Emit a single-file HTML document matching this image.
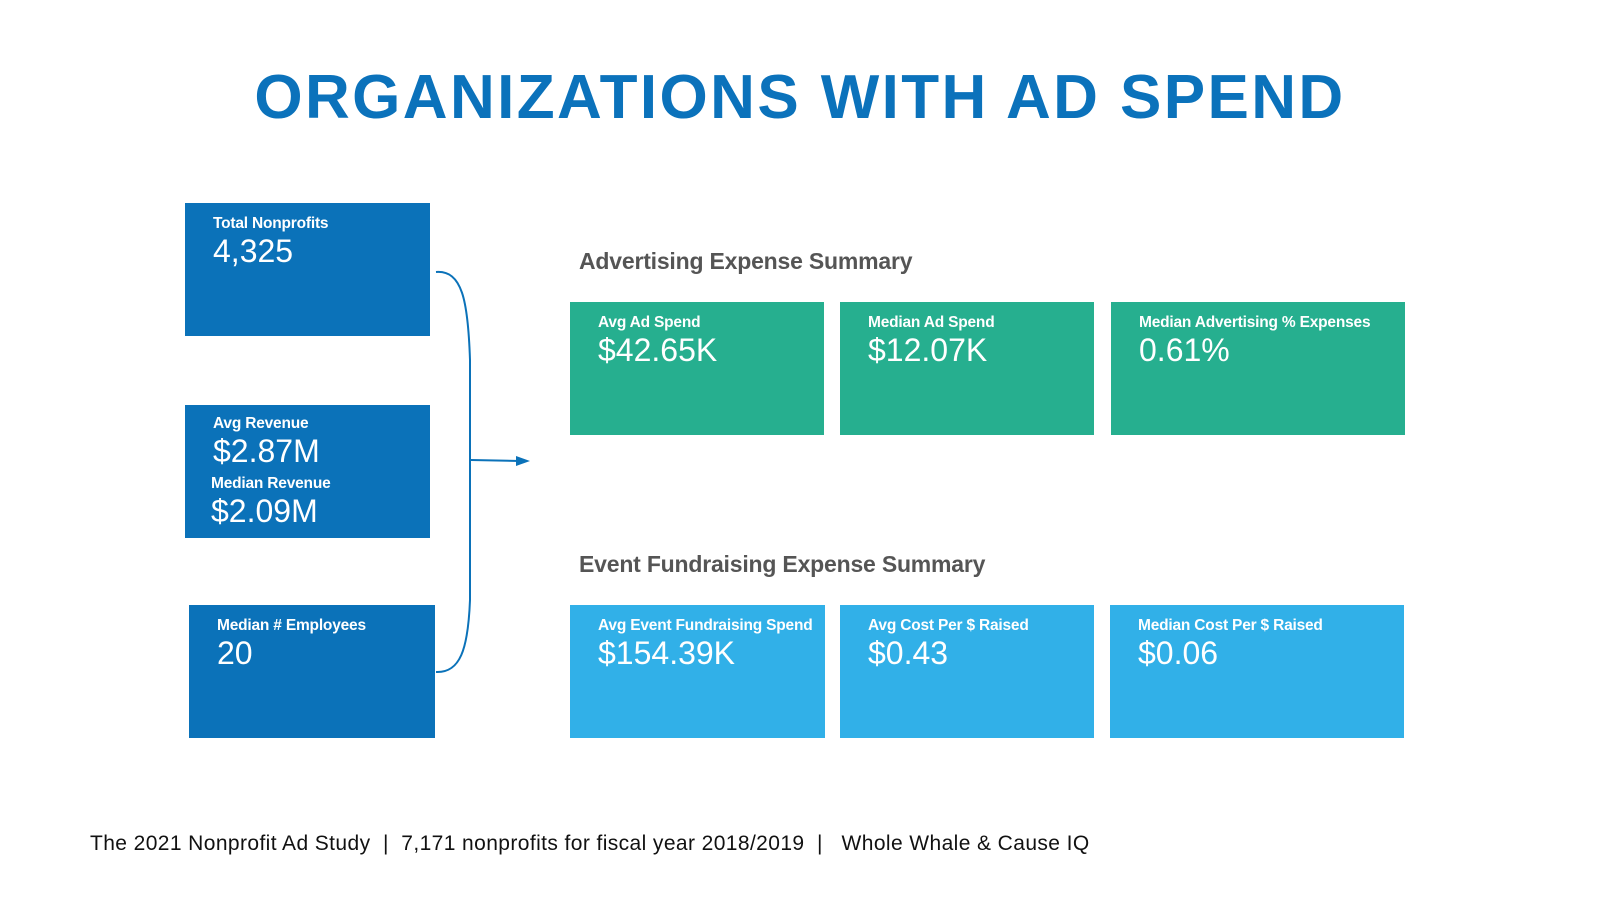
<!DOCTYPE html>
<html><head><meta charset="utf-8"><style>
body{margin:0;width:1600px;height:900px;background:#fff;position:relative;overflow:hidden;font-family:"Liberation Sans",sans-serif}
.t{position:absolute;left:0;width:1600px;top:62px;text-align:center;font-size:62px;font-weight:bold;color:#0b72bb;letter-spacing:2.4px}
.b{position:absolute;color:#fff}
.b .l{position:absolute;left:28px;font-size:15.5px;font-weight:bold;letter-spacing:-0.2px}
.b .v{position:absolute;left:28px;font-size:32px}
.d{background:#0b72b9}.g{background:#26af8f}.c{background:#31b0e8}
.h{position:absolute;left:579px;font-size:23px;font-weight:bold;color:#555;letter-spacing:-0.2px}
.f{position:absolute;left:90px;top:832px;font-size:21px;color:#111;letter-spacing:0.4px}
</style></head><body>
<div class="t">ORGANIZATIONS WITH AD SPEND</div>
<div class="b d" style="left:185px;top:203px;width:245px;height:133px"><div class="l" style="top:12px">Total Nonprofits</div><div class="v" style="top:30px">4,325</div></div>
<div class="b d" style="left:185px;top:405px;width:245px;height:133px"><div class="l" style="top:10px">Avg Revenue</div><div class="v" style="top:28px">$2.87M</div><div class="l" style="top:70px;left:26px">Median Revenue</div><div class="v" style="top:88px;left:26px">$2.09M</div></div>
<div class="b d" style="left:189px;top:605px;width:246px;height:133px"><div class="l" style="top:12px">Median # Employees</div><div class="v" style="top:30px">20</div></div>
<svg style="position:absolute;left:0;top:0" width="1600" height="900">
<path d="M436 272 C462 270 468 300 470 360 L470 600 C468 650 460 673 436 672" fill="none" stroke="#0b72b9" stroke-width="2"/>
<line x1="471" y1="460" x2="520" y2="461" stroke="#0b72b9" stroke-width="2"/>
<polygon points="530,461 516,456 516,466" fill="#0b72b9"/>
</svg>
<div class="h" style="top:248px">Advertising Expense Summary</div>
<div class="h" style="top:551px">Event Fundraising Expense Summary</div>
<div class="b g" style="left:570px;top:302px;width:254px;height:133px"><div class="l" style="top:12px">Avg Ad Spend</div><div class="v" style="top:30px">$42.65K</div></div>
<div class="b g" style="left:840px;top:302px;width:254px;height:133px"><div class="l" style="top:12px">Median Ad Spend</div><div class="v" style="top:30px">$12.07K</div></div>
<div class="b g" style="left:1111px;top:302px;width:294px;height:133px"><div class="l" style="top:12px">Median Advertising % Expenses</div><div class="v" style="top:30px">0.61%</div></div>
<div class="b c" style="left:570px;top:605px;width:255px;height:133px"><div class="l" style="top:12px">Avg Event Fundraising Spend</div><div class="v" style="top:30px">$154.39K</div></div>
<div class="b c" style="left:840px;top:605px;width:254px;height:133px"><div class="l" style="top:12px">Avg Cost Per $ Raised</div><div class="v" style="top:30px">$0.43</div></div>
<div class="b c" style="left:1110px;top:605px;width:294px;height:133px"><div class="l" style="top:12px">Median Cost Per $ Raised</div><div class="v" style="top:30px">$0.06</div></div>
<div class="f">The 2021 Nonprofit Ad Study &nbsp;| &nbsp;7,171 nonprofits for fiscal year 2018/2019 &nbsp;| &nbsp; Whole Whale &amp; Cause IQ</div>
</body></html>
